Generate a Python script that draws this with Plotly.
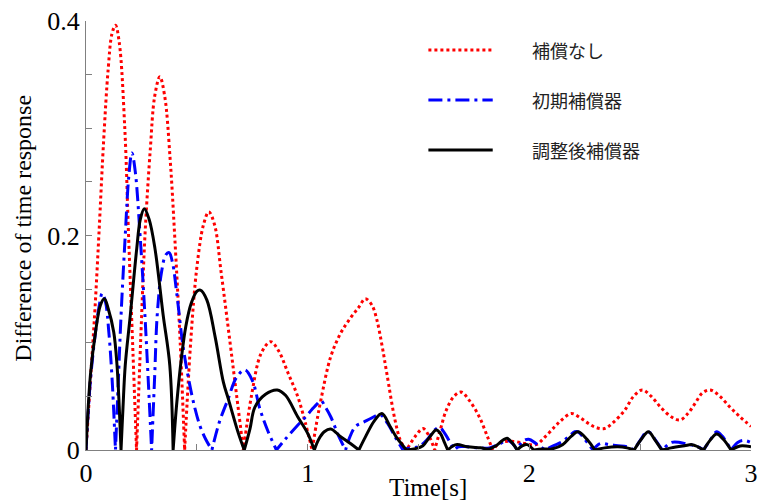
import plotly.graph_objects as go

# Time axis [s] and absolute response differences for each compensator setting
t_none = [0, 0.02, 0.04, 0.058, 0.08, 0.1, 0.117, 0.133, 0.15, 0.175, 0.192, 0.212, 0.228,
          0.25, 0.266, 0.29, 0.31, 0.333, 0.355, 0.38, 0.40, 0.425, 0.445,
          0.472, 0.50, 0.53, 0.554, 0.58, 0.61, 0.65, 0.68, 0.71,
          0.746, 0.79, 0.833, 0.87, 0.911, 0.955, 0.99, 1.02,
          1.04, 1.06, 1.104, 1.149, 1.193, 1.23, 1.26, 1.29, 1.3125, 1.335, 1.357, 1.394, 1.42, 1.446,
          1.49, 1.521, 1.55, 1.573,
          1.60, 1.625, 1.66, 1.692, 1.73, 1.774, 1.81, 1.835,
          1.87, 1.93, 1.98, 2.03, 2.07, 2.116, 2.146, 2.19, 2.23, 2.265, 2.30, 2.339, 2.38,
          2.43, 2.47, 2.51, 2.55, 2.592, 2.64, 2.68, 2.715, 2.748, 2.78, 2.815, 2.86, 2.905,
          2.95, 3.0]
v_none = [0, 0.065, 0.13, 0.2, 0.29, 0.355, 0.388, 0.396, 0.38, 0.3, 0.2, 0.09, 0,
          0.12, 0.2, 0.28, 0.33, 0.348, 0.33, 0.27, 0.2, 0.1, 0,
          0.1, 0.17, 0.21, 0.222, 0.21, 0.165, 0.1, 0.05, 0,
          0.05, 0.09, 0.101, 0.092, 0.072, 0.05, 0.025, 0,
          0.025, 0.047, 0.087, 0.109, 0.123, 0.133, 0.141, 0.135, 0.121, 0.098, 0.0715, 0.028, 0.008, 0,
          0.014, 0.02, 0.012, 0,
          0.02, 0.037, 0.05, 0.054, 0.046, 0.031, 0.013, 0,
          0.007, 0.008, 0.006, 0.005, 0.012, 0.022, 0.028, 0.034, 0.03, 0.025, 0.021, 0.02, 0.026,
          0.037, 0.05, 0.056, 0.05, 0.04, 0.031, 0.028, 0.034, 0.0435, 0.053, 0.056, 0.05, 0.04,
          0.031, 0.022]

t_init = [0, 0.02, 0.043, 0.06, 0.073, 0.088, 0.103, 0.118, 0.133,
          0.145, 0.158, 0.177, 0.193, 0.207, 0.222, 0.244, 0.266, 0.282, 0.296,
          0.31, 0.321, 0.34, 0.36, 0.375, 0.39, 0.41, 0.4375, 0.464, 0.49, 0.515, 0.54, 0.568,
          0.60, 0.64, 0.68, 0.717, 0.75, 0.785, 0.82, 0.859,
          0.896, 0.95, 0.985, 1.02, 1.045, 1.06, 1.08, 1.104, 1.141, 1.171,
          1.19, 1.216, 1.253, 1.29, 1.327, 1.36, 1.395, 1.43,
          1.46, 1.50, 1.54, 1.57, 1.595, 1.62, 1.645, 1.662,
          1.68, 1.72, 1.77, 1.82, 1.86, 1.9, 1.925, 1.945, 1.97, 1.997, 2.03, 2.07,
          2.11, 2.15, 2.18, 2.205, 2.22, 2.25, 2.287, 2.32, 2.36, 2.40, 2.44, 2.473,
          2.50, 2.53, 2.545, 2.57, 2.6, 2.64, 2.68, 2.72, 2.75, 2.786,
          2.815, 2.845, 2.87, 2.91, 2.94, 2.964, 3.0]
v_init = [0, 0.065, 0.11, 0.135, 0.146, 0.138, 0.11, 0.065, 0,
          0.06, 0.125, 0.2, 0.255, 0.277, 0.26, 0.2, 0.125, 0.06, 0,
          0.07, 0.125, 0.165, 0.182, 0.184, 0.175, 0.145, 0.097, 0.065, 0.04, 0.022, 0.01, 0,
          0.025, 0.047, 0.068, 0.0746, 0.065, 0.038, 0.018, 0,
          0.0093, 0.022, 0.0295, 0.038, 0.0435, 0.046, 0.04, 0.031, 0.0124, 0,
          0.012, 0.022, 0.026, 0.03, 0.033, 0.025, 0.012, 0,
          0.002, 0.003, 0.01, 0.018, 0.021, 0.015, 0.006, 0,
          0.003, 0.003, 0.002, 0.002, 0.005, 0.009, 0.006, 0, 0.008, 0.01, 0.006, 0,
          0.004, 0.008, 0.013, 0.017, 0.017, 0.01, 0, 0.006, 0.005, 0.004, 0.003, 0,
          0.009, 0.017, 0.016, 0.009, 0, 0.007, 0.007, 0.005, 0.004, 0,
          0.009, 0.017, 0.013, 0, 0.007, 0.009, 0.007]

t_tuned = [0, 0.02, 0.043, 0.065, 0.083, 0.1, 0.125, 0.14, 0.15, 0.158,
           0.167, 0.177, 0.2, 0.229, 0.245, 0.263, 0.285, 0.311, 0.348, 0.378, 0.393,
           0.41, 0.43, 0.45, 0.475, 0.50, 0.516, 0.545, 0.583, 0.62, 0.643, 0.6875, 0.714,
           0.74, 0.762, 0.81, 0.863, 0.9, 0.955, 1.0, 1.03,
           1.05, 1.075, 1.104, 1.149, 1.193, 1.231,
           1.26, 1.3, 1.335, 1.372, 1.40, 1.43, 1.446,
           1.48, 1.52, 1.55, 1.58, 1.6, 1.615, 1.632,
           1.67, 1.72, 1.78, 1.82, 1.85, 1.88, 1.9, 1.925, 1.945, 1.97, 1.99, 2.02,
           2.06, 2.1, 2.15, 2.19, 2.22, 2.26, 2.295, 2.34, 2.4, 2.44, 2.473,
           2.505, 2.537, 2.565, 2.597, 2.64, 2.70, 2.734, 2.76, 2.786,
           2.815, 2.845, 2.875, 2.91, 2.94, 2.96, 3.0]
v_tuned = [0, 0.07, 0.11, 0.135, 0.141, 0.132, 0.11, 0.079, 0.04, 0,
           0.04, 0.079, 0.126, 0.188, 0.215, 0.225, 0.215, 0.188, 0.126, 0.079, 0,
           0.045, 0.085, 0.115, 0.137, 0.148, 0.149, 0.14, 0.105, 0.063, 0.047, 0.0155, 0,
           0.02, 0.04, 0.052, 0.056, 0.051, 0.031, 0.0155, 0,
           0.01, 0.017, 0.0196, 0.0124, 0.006, 0,
           0.012, 0.027, 0.034, 0.022, 0.012, 0.004, 0,
           0.001, 0.004, 0.012, 0.0187, 0.015, 0.008, 0,
           0.005, 0.003, 0.002, 0.001, 0.004, 0.009, 0.011, 0.006, 0, 0.004, 0.005, 0,
           0.001, 0.001, 0.005, 0.013, 0.017, 0.01, 0, 0.002, 0.003, 0.002, 0,
           0.01, 0.017, 0.01, 0, 0.002, 0.004, 0.005, 0.003, 0,
           0.009, 0.015, 0.01, 0, 0.003, 0.004, 0.003]

series_names = ["補償なし", "初期補償器", "調整後補償器"]
series_colors = ["#ff0000", "#0000ff", "#000000"]
series_dash = ["dot", "14px,5px,3px,5px", "solid"]
series_width = [3, 3, 3]

x_tick_vals = [0, 1, 2, 3]
x_tick_text = ["0", "1", "2", "3"]
y_tick_vals = [0, 0.2, 0.4]
y_tick_text = ["0", "0.2", "0.4"]

SERIF = "Liberation Serif, Times New Roman, serif"
CJK = "Noto Sans CJK JP, sans-serif"
AXIS_GREY = "#808080"


def with_sharp_zeros(ts, vs):
    """Repeat zero-crossing samples so the spline keeps a sharp cusp there."""
    xs, ys = [], []
    for t, v in zip(ts, vs):
        xs.append(t)
        ys.append(v)
        if v == 0 and 0 < t < 3:
            xs.append(t)
            ys.append(v)
    return xs, ys


fig = go.Figure()
for (ts, vs), name, color, dash, width in zip(
        [(t_none, v_none), (t_init, v_init), (t_tuned, v_tuned)],
        series_names, series_colors, series_dash, series_width):
    xs, ys = with_sharp_zeros(ts, vs)
    fig.add_trace(go.Scatter(
        x=xs, y=ys, mode="lines", name=name, showlegend=False,
        line=dict(color=color, dash=dash, width=width, shape="spline",
                  smoothing=1.0, simplify=False),
    ))

# Hand-placed legend: line samples and labels
legend_rows_y = [50, 100, 150]  # pixel rows from the top of the page
plot_left, plot_right, plot_top, plot_bottom = 86, 758, 21, 450
pw, ph = plot_right - plot_left, plot_bottom - plot_top


def px_x(px):
    return (px - plot_left) / pw


def px_y(py):
    return (plot_bottom - py) / ph


for row_y, name, color, dash, width in zip(legend_rows_y, series_names, series_colors,
                                            series_dash, series_width):
    fig.add_shape(type="line", xref="paper", yref="paper",
                  x0=px_x(432), x1=px_x(497), y0=px_y(row_y), y1=px_y(row_y),
                  line=dict(color=color, dash=dash, width=width))
    fig.add_annotation(xref="paper", yref="paper", x=px_x(535), y=px_y(row_y),
                       xanchor="left", yanchor="middle", showarrow=False,
                       text=name, font=dict(family=CJK, size=18, color="#222222"))

# Axis titles
fig.add_annotation(xref="paper", yref="paper", x=px_x(432), y=px_y(488),
                   xanchor="center", yanchor="middle", showarrow=False,
                   text="Time[s]", font=dict(family=SERIF, size=25, color="#000000"))
fig.add_annotation(xref="paper", yref="paper", x=px_x(22), y=px_y(228),
                   xanchor="center", yanchor="middle", showarrow=False, textangle=-90,
                   text="Difference of time response",
                   font=dict(family=SERIF, size=24, color="#000000"))

fig.update_layout(
    width=761, height=502,
    margin=dict(l=plot_left, r=761 - plot_right, t=plot_top, b=502 - plot_bottom),
    paper_bgcolor="white", plot_bgcolor="white",
    xaxis=dict(range=[0, 3], tickvals=x_tick_vals, ticktext=x_tick_text,
               showgrid=False, zeroline=False, showline=True, linecolor=AXIS_GREY,
               linewidth=1, ticks="inside", ticklen=6, tickcolor=AXIS_GREY,
               ticklabeloverflow="allow",
               tickfont=dict(family=SERIF, size=26, color="#000000"),
               minor=dict(dtick=0.5, ticks="inside", ticklen=6, tickcolor=AXIS_GREY,
                          showgrid=False)),
    yaxis=dict(range=[0, 0.4], tickvals=y_tick_vals, ticktext=y_tick_text,
               showgrid=False, zeroline=False, showline=True, linecolor=AXIS_GREY,
               linewidth=1, ticks="inside", ticklen=6, tickcolor=AXIS_GREY,
               ticklabeloverflow="allow",
               tickfont=dict(family=SERIF, size=26, color="#000000"),
               minor=dict(dtick=0.05, ticks="inside", ticklen=6, tickcolor=AXIS_GREY,
                          showgrid=False)),
)

fig.write_html("out.html")
